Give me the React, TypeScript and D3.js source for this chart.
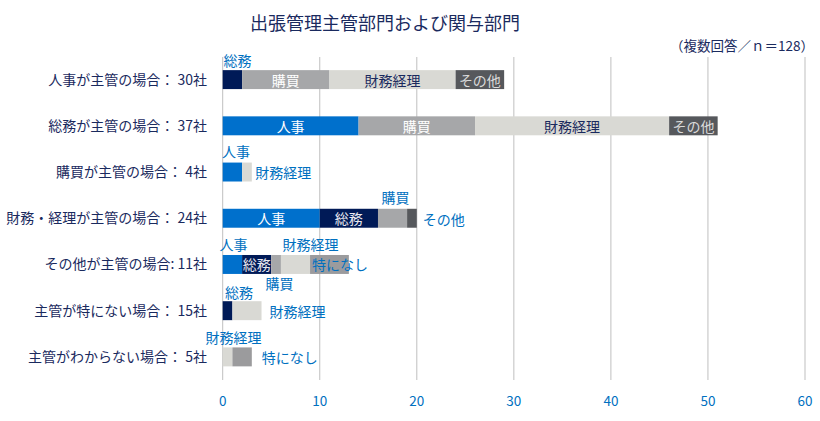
import React from "react";
import * as d3 from "d3";

const title = "出張管理主管部門および関与部門";
const subtitle = "（複数回答／ｎ＝128）";
const categories = [
  "人事が主管の場合： 30社",
  "総務が主管の場合： 37社",
  "購買が主管の場合： 4社",
  "財務・経理が主管の場合： 24社",
  "その他が主管の場合: 11社",
  "主管が特にない場合： 15社",
  "主管がわからない場合： 5社",
];
const departments = ["人事", "総務", "購買", "財務経理", "その他", "特になし"];
const jinji = [0, 14, 2, 10, 2, 0, 0];
const soumu = [2, 0, 0, 6, 3, 1, 0];
const koubai = [9, 12, 0, 3, 1, 0, 0];
const zaimu = [13, 20, 1, 0, 3, 3, 1];
const sonota = [5, 5, 0, 1, 0, 0, 0];
const tokuni = [0, 0, 0, 0, 4, 0, 2];
const xTicks = [0, 10, 20, 30, 40, 50, 60];

// label placement: [row, department, mode, dx, dy]
type Mode = "in" | "above" | "right" | "inStart";
const labelSpecs: [number, string, Mode, number, number][] = [
  [0, "総務", "above", 5, -19.5],
  [0, "購買", "in", 0, 0],
  [0, "財務経理", "in", 0, 0],
  [0, "その他", "in", 0, 0],
  [1, "人事", "in", 0, 0],
  [1, "購買", "in", 0, 0],
  [1, "財務経理", "in", 0, 0],
  [1, "その他", "in", 0, 0],
  [2, "人事", "above", 3.5, -21],
  [2, "財務経理", "right", 3.5, 0],
  [3, "人事", "in", 0, 0],
  [3, "総務", "in", 0, 0],
  [3, "購買", "above", 3, -21],
  [3, "その他", "right", 6, 1],
  [4, "人事", "above", 1, -20],
  [4, "総務", "in", 0, 0],
  [4, "財務経理", "above", 15, -20],
  [4, "特になし", "inStart", 2, 0],
  [5, "総務", "above", 11.5, -18.5],
  [5, "購買", "above", 47, -28],
  [5, "財務経理", "right", 8, 0],
  [6, "財務経理", "above", 6, -19.5],
  [6, "特になし", "right", 10, 0],
];

const colors: Record<string, string> = {
  人事: "#0070CC",
  総務: "#001A57",
  購買: "#A6A7A9",
  財務経理: "#D9D9D4",
  その他: "#56585C",
  特になし: "#9B9B9D",
};
const insideText: Record<string, string> = {
  人事: "#FFFFFF",
  総務: "#E8E8F0",
  購買: "#FFFFFF",
  財務経理: "#1A2A5E",
  その他: "#DADADA",
  特になし: "#0070C0",
};
const blue = "#0070C0";
const navy = "#1A2A5E";
const font = "'Noto Sans CJK JP', 'Noto Sans', sans-serif";

export default function App() {
  const W = 820, H = 421;
  const x = d3.scaleLinear().domain([0, 60]).range([222.7, 805]);
  const y = d3.scaleBand<number>().domain(d3.range(categories.length)).range([56.5, 380]).paddingInner(0.59).paddingOuter(0.295);

  const table = categories.map((c, i) => ({
    人事: jinji[i], 総務: soumu[i], 購買: koubai[i], 財務経理: zaimu[i], その他: sonota[i], 特になし: tokuni[i],
  }));
  const stacked = d3.stack<any>().keys(departments)(table);
  const seg = (row: number, dept: string) => {
    const s = stacked[departments.indexOf(dept)][row];
    return { x0: x(s[0]), x1: x(s[1]) };
  };
  const bh = y.bandwidth();

  return (
    <svg width={W} height={H} style={{ position: "absolute", left: 0, top: 0, background: "#fff" }} fontFamily={font}>
      <text x={385} y={22} textAnchor="middle" dominantBaseline="central" fontSize={18} fill={navy}>{title}</text>
      <text x={814} y={45} textAnchor="end" dominantBaseline="central" fontSize={13.5} fill={navy}>{subtitle}</text>
      {xTicks.map((t) => (
        <g key={t}>
          <line x1={x(t)} x2={x(t)} y1={57} y2={380} stroke="#BFBFBF" strokeWidth={1} />
          <text x={x(t)} y={400} textAnchor="middle" dominantBaseline="central" fontSize={13.5} fill={blue}>{t}</text>
        </g>
      ))}
      {categories.map((c, i) => (
        <text key={c} x={207} y={(y(i) as number) + bh / 2 - 1} textAnchor="end" dominantBaseline="central" fontSize={14} fill={navy}>{c}</text>
      ))}
      {stacked.map((layer) => (
        <g key={layer.key} fill={colors[layer.key]}>
          {layer.map((d, i) => (
            <rect key={i} x={x(d[0])} y={y(i)} width={Math.max(0, x(d[1]) - x(d[0]))} height={bh} />
          ))}
        </g>
      ))}
      {labelSpecs.map(([row, dept, mode, dx, dy], k) => {
        const s = seg(row, dept);
        const cy = (y(row) as number) + bh / 2 + dy;
        let tx = (s.x0 + s.x1) / 2 + dx;
        let anchor = "middle";
        let fill = blue;
        if (mode === "in") fill = insideText[dept];
        if (mode === "inStart") { tx = s.x0 + dx; anchor = "start"; fill = insideText[dept]; }
        if (mode === "right") { tx = s.x1 + dx; anchor = "start"; }
        return (
          <text key={k} x={tx} y={cy} textAnchor={anchor as any} dominantBaseline="central" fontSize={14} fill={fill}>{dept}</text>
        );
      })}
    </svg>
  );
}
